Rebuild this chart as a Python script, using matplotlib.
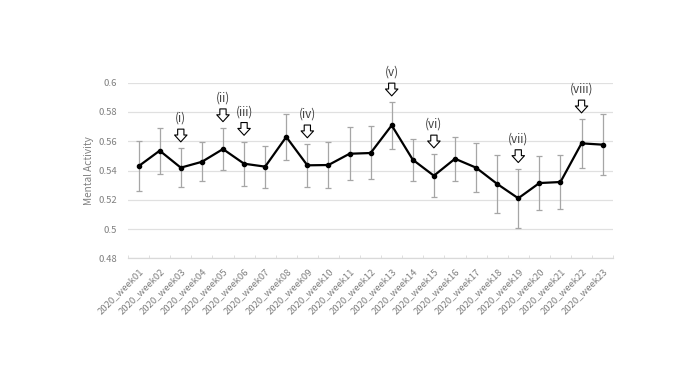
import matplotlib
matplotlib.use("Agg")
import matplotlib.pyplot as plt
import numpy as np
from matplotlib.patches import ArrowStyle

weeks = [f"2020_week{i:02d}" for i in range(1, 24)]
values = [0.543, 0.5536, 0.542, 0.546, 0.5547, 0.5447, 0.5427, 0.563, 0.5436, 0.5438,
          0.5515, 0.552, 0.5709, 0.5474, 0.5365, 0.5481, 0.542, 0.5309, 0.5211, 0.5315,
          0.5322, 0.5586, 0.5577]
err_upper = [0.560, 0.569, 0.5552, 0.5597, 0.569, 0.5597, 0.557, 0.5789, 0.558, 0.5593,
             0.570, 0.5704, 0.5866, 0.5614, 0.5511, 0.5631, 0.5588, 0.5506, 0.5411, 0.5497,
             0.5504, 0.575, 0.5786]
err_lower = [0.526, 0.5377, 0.529, 0.5327, 0.5404, 0.5295, 0.528, 0.5472, 0.529, 0.5283,
             0.5336, 0.534, 0.5545, 0.5327, 0.522, 0.5327, 0.5252, 0.5109, 0.501, 0.5133,
             0.514, 0.5416, 0.537]
event_labels = ["(i)", "(ii)", "(iii)", "(iv)", "(v)", "(vi)", "(vii)", "(viii)"]
event_weeks = [3, 5, 6, 9, 13, 15, 19, 22]
yticks = [0.48, 0.5, 0.52, 0.54, 0.56, 0.58, 0.6]
ytick_labels = ["0.48", "0.5", "0.52", "0.54", "0.56", "0.58", "0.6"]

plt.rcParams['font.family'] = ['Noto Sans CJK JP', 'DejaVu Sans']
gray_text = "#7f7f7f"

fig = plt.figure(figsize=(6.96, 3.85), dpi=100)
ax = fig.add_axes([0.184, 0.3286, 0.697, 0.4566])

x = np.arange(len(weeks))
vals = np.array(values)
yerr = [vals - np.array(err_lower), np.array(err_upper) - vals]
ax.errorbar(x, vals, yerr=yerr, fmt='none', ecolor="#a6a6a6", elinewidth=0.9,
            capsize=2.5, capthick=0.9, zorder=2)
ax.plot(x, vals, color="black", lw=1.6, marker='o', markersize=3.0, zorder=3)

ax.set_xlim(-0.5, len(weeks) - 0.5)
ax.set_ylim(0.48, 0.6)
ax.set_yticks(yticks)
ax.set_yticklabels(ytick_labels)
ax.set_xticks(x)
ax.set_xticklabels(weeks, rotation=45, ha='right', va='top', rotation_mode='anchor')
ax.set_xticks(np.arange(-0.5, len(weeks), 1), minor=True)
ax.tick_params(axis='x', which='major', length=0, pad=6, labelsize=6.8, labelcolor=gray_text)
ax.tick_params(axis='x', which='minor', length=2.5, direction='in', color="#d9d9d9")
ax.tick_params(axis='y', length=0, labelsize=6.8, labelcolor=gray_text, pad=8)
ax.grid(axis='y', color="#e0e0e0", lw=0.9)
ax.set_axisbelow(True)
for s in ['top', 'right', 'left']:
    ax.spines[s].set_visible(False)
ax.spines['bottom'].set_color("#d9d9d9")
ax.spines['bottom'].set_linewidth(0.9)
ax.set_ylabel("Mental Activity", color=gray_text, fontsize=7.2, labelpad=3)

arrow_style = ArrowStyle.Simple(head_length=0.55, head_width=1.0, tail_width=0.5)
for lab, wk in zip(event_labels, event_weeks):
    i = wk - 1
    tip = err_upper[i] + 0.0044
    top = tip + 0.0087
    ax.annotate("", xy=(x[i], tip), xytext=(x[i], top),
                arrowprops=dict(arrowstyle=arrow_style, fc="white", ec="black",
                                lw=0.8, mutation_scale=9, shrinkA=0, shrinkB=0),
                zorder=4)
    ax.text(x[i], top + 0.0074, lab, ha='center', va='center', fontsize=8.5,
            color="#404040")

fig.savefig("out.png", dpi=100)
